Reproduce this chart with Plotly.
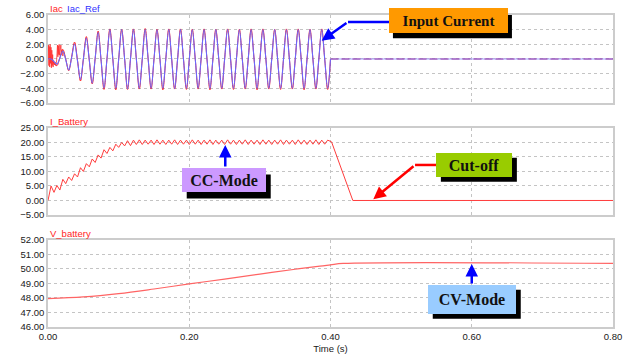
import plotly.graph_objects as go

# ---------------- data ----------------
TIME = [0.0,
        0.0043, 0.0085, 0.0126, 0.0168, 0.0210, 0.0251, 0.0293, 0.0335, 0.0376, 0.0418,
        0.0460, 0.0501, 0.0543, 0.0585, 0.0626, 0.0668, 0.0710, 0.0751, 0.0793, 0.0835,
        0.0876, 0.0918, 0.0960, 0.1001, 0.1043, 0.1085, 0.1126, 0.1168, 0.1210, 0.1251,
        0.1293, 0.1335, 0.1376, 0.1418, 0.1460, 0.1501, 0.1543, 0.1585, 0.1626, 0.1668,
        0.1710, 0.1751, 0.1793, 0.1835, 0.1876, 0.1918, 0.1960, 0.2001, 0.2043, 0.2085,
        0.2126, 0.2168, 0.2210, 0.2251, 0.2293, 0.2335, 0.2376, 0.2418, 0.2460, 0.2501,
        0.2543, 0.2585, 0.2626, 0.2668, 0.2710, 0.2751, 0.2793, 0.2835, 0.2876, 0.2918,
        0.2960, 0.3001, 0.3043, 0.3085, 0.3126, 0.3168, 0.3210, 0.3251, 0.3293, 0.3335,
        0.3376, 0.3418, 0.3460, 0.3501, 0.3543, 0.3585, 0.3626, 0.3668, 0.3710, 0.3751,
        0.3793, 0.3835, 0.3876, 0.3918, 0.3960, 0.4000]

IAC_REF = [0.0, 0.0, -0.35, -0.7, 0.1, 1.1, -0.1, -1.5, 0.2, 2.05,
           -0.3, -2.8, 0.0, 2.85, -0.2, -3.3, 0.1, 3.65, -0.1, -3.95,
           0.0, 4.0, 0.0, -4.0, 0.0, 4.0, 0.0, -4.05, 0.0, 4.0,
           0.0, -4.0, 0.0, 4.0, 0.0, -4.0, 0.0, 3.98, 0.0, -4.0,
           0.0, 4.0, 0.0, -4.02, 0.0, 4.0, 0.0, -4.0, 0.0, 3.98,
           0.0, -4.0, 0.0, 4.0, 0.0, -4.02, 0.0, 4.0, 0.0, -4.0,
           0.0, 4.0, 0.0, -4.0, 0.0, 3.98, 0.0, -4.0, 0.0, 4.0,
           0.0, -4.02, 0.0, 4.0, 0.0, -4.0, 0.0, 4.0, 0.0, -4.0,
           0.0, 3.98, 0.0, -4.0, 0.0, 4.0, 0.0, -4.02, 0.0, 4.0,
           0.0, -4.0, 0.0, 4.0, 0.0, -4.0, 0.0]

IAC = [0.1, 0.1, -0.6, -0.9, 0.2, 1.3, 0.0, -1.6, 0.3, 2.3,
       -0.2, -3.0, 0.0, 3.05, -0.2, -3.4, 0.1, 3.8, -0.1, -4.15,
       0.0, 4.1, 0.0, -4.2, 0.0, 4.05, 0.0, -4.15, 0.0, 4.1,
       0.0, -4.1, 0.0, 4.15, 0.0, -4.1, 0.0, 4.05, 0.0, -4.2,
       0.0, 4.1, 0.0, -4.1, 0.0, 4.1, 0.0, -4.15, 0.0, 4.05,
       0.0, -4.1, 0.0, 4.1, 0.0, -4.2, 0.0, 4.05, 0.0, -4.1,
       0.0, 4.1, 0.0, -4.15, 0.0, 4.05, 0.0, -4.1, 0.0, 4.1,
       0.0, -4.2, 0.0, 4.1, 0.0, -4.1, 0.0, 4.05, 0.0, -4.15,
       0.0, 4.1, 0.0, -4.1, 0.0, 4.1, 0.0, -4.2, 0.0, 4.05,
       0.0, -4.1, 0.0, 4.1, 0.0, -4.15, 0.0]

# switching noise on the measured current at start-up
IAC_NOISE_T = [0.0, 0.0006, 0.0012, 0.0018, 0.0024, 0.0030, 0.0036, 0.0042, 0.0048, 0.0054,
               0.0060, 0.0066, 0.0072, 0.0080, 0.0090, 0.0100, 0.0110, 0.0120, 0.0128, 0.0134,
               0.0140, 0.0146, 0.0152, 0.0158, 0.0164, 0.0170, 0.0176, 0.0182, 0.0190, 0.0200,
               0.0210, 0.0220]
IAC_NOISE = [0.2, 1.9, -0.9, 1.7, -1.1, 2.0, -0.6, 1.6, -1.2, 1.2,
             -0.9, 0.6, -1.1, -0.2, -0.8, -0.4, -0.9, -0.5, 0.8, 1.9,
             0.3, 1.8, 0.6, 2.0, 0.5, 1.6, 0.9, 1.9, 0.6, 1.3,
             0.4, 0.9]

IAC_TAIL_T = [0.40, 0.80]
IAC_TAIL = [0.0, 0.0]

I_BATTERY = [0.0, 5.0, 2.8, 5.2, 3.6, 7.3, 5.8, 8.1, 6.9, 9.2,
             8.1, 11.3, 10.0, 12.7, 11.6, 14.3, 13.1, 15.7, 14.6, 17.5,
             16.2, 18.3, 17.1, 19.4, 18.3, 20.0, 18.8, 20.6, 18.9, 20.8,
             19.3, 20.9, 19.3, 20.8, 19.4, 20.8, 19.3, 20.9, 19.4, 20.8,
             19.3, 20.8, 19.4, 20.9, 19.3, 20.8, 19.4, 20.8, 19.3, 20.9,
             19.4, 20.8, 19.3, 20.8, 19.4, 20.9, 19.3, 20.8, 19.4, 20.8,
             19.3, 20.9, 19.4, 20.8, 19.3, 20.8, 19.4, 20.9, 19.3, 20.8,
             19.4, 20.8, 19.3, 20.9, 19.4, 20.8, 19.3, 20.8, 19.4, 20.9,
             19.3, 20.8, 19.4, 20.8, 19.3, 20.9, 19.4, 20.8, 19.3, 20.8,
             19.4, 20.9, 19.3, 20.8, 19.4, 20.8]
BAT_TAIL_T = [0.4015, 0.4316, 0.8000]
BAT_TAIL = [20.2, 0.0, 0.0]

V_BATT_T = [0.0, 0.05, 0.10, 0.15, 0.20, 0.25, 0.30, 0.35, 0.385, 0.40, 0.418, 0.80]
V_BATT = [47.95, 48.07, 48.3, 48.62, 48.97, 49.3, 49.65, 49.98, 50.2, 50.28, 50.38, 50.38]

X_TICKS = [0.0, 0.2, 0.4, 0.6, 0.8]
Y1_TICKS = [-6, -4, -2, 0, 2, 4, 6]
Y2_TICKS = [-5, 0, 5, 10, 15, 20, 25]
Y3_TICKS = [46, 47, 48, 49, 50, 51, 52]

# ---------------- figure ----------------
fig = go.Figure()

fig.add_trace(go.Scatter(x=TIME, y=IAC, mode="lines", line=dict(color="rgb(255,20,20)", width=1.0, shape="spline"),
                         xaxis="x", yaxis="y", hoverinfo="skip"))
fig.add_trace(go.Scatter(x=IAC_NOISE_T, y=IAC_NOISE, mode="lines", line=dict(color="rgba(255,40,40,0.75)", width=1),
                         xaxis="x", yaxis="y", hoverinfo="skip"))
fig.add_trace(go.Scatter(x=TIME, y=IAC_REF, mode="lines", line=dict(color="rgb(105,105,255)", width=1.1, shape="spline"),
                         xaxis="x", yaxis="y", hoverinfo="skip"))
fig.add_trace(go.Scatter(x=IAC_TAIL_T, y=IAC_TAIL, mode="lines", line=dict(color="rgb(160,160,255)", width=1.2),
                         xaxis="x", yaxis="y", hoverinfo="skip"))
fig.add_trace(go.Scatter(x=IAC_TAIL_T, y=IAC_TAIL, mode="lines", line=dict(color="rgb(150,50,160)", width=1.2, dash="8px,3px"),
                         xaxis="x", yaxis="y", hoverinfo="skip"))

fig.add_trace(go.Scatter(x=TIME[:len(I_BATTERY)] + BAT_TAIL_T, y=I_BATTERY + BAT_TAIL, mode="lines",
                         line=dict(color="rgb(255,60,60)", width=1), xaxis="x2", yaxis="y2", hoverinfo="skip"))

fig.add_trace(go.Scatter(x=V_BATT_T, y=V_BATT, mode="lines", line=dict(color="rgb(255,100,100)", width=1.2, shape="spline"),
                         xaxis="x3", yaxis="y3", hoverinfo="skip"))

font_axis = dict(family="Arial, Liberation Sans", size=9.5, color="#202020")

def xax(anchor, show):
    return dict(domain=[0, 1], anchor=anchor, range=[0, 0.8], tickvals=X_TICKS, tickformat=".2f",
                showticklabels=show, showgrid=True, gridcolor="#c4c4c4", griddash="dot", gridwidth=1,
                zeroline=False, showline=True, mirror=True, linecolor="#cccccc", linewidth=1.5,
                ticks="", tickfont=font_axis, fixedrange=True, automargin=False)

def yax(anchor, dom, rng, ticks):
    return dict(domain=dom, anchor=anchor, range=rng, tickvals=ticks, tickformat=".2f",
                showgrid=True, gridcolor="#c4c4c4", griddash="dot", gridwidth=1,
                zeroline=False, showline=True, mirror=True, linecolor="#cccccc", linewidth=1.5,
                ticks="", tickfont=font_axis, fixedrange=True, automargin=False)

x3 = xax("y3", True)
x3["title"] = dict(text="Time (s)", font=font_axis, standoff=4)

fig.update_layout(
    width=628, height=358,
    margin=dict(l=48, r=15, t=15, b=31, autoexpand=False),
    paper_bgcolor="white", plot_bgcolor="white",
    showlegend=False,
    xaxis=xax("y", False),
    xaxis2=xax("y2", False),
    xaxis3=x3,
    yaxis=yax("x", [0.718, 1.0], [-6, 6], Y1_TICKS),
    yaxis2=yax("x2", [0.359, 0.638], [-5, 25], Y2_TICKS),
    yaxis3=yax("x3", [0.0, 0.279], [46, 52], Y3_TICKS),
)

lbl_font = dict(family="Arial, Liberation Sans", size=9.5)
ann = []
def title(text, color, xref, yref, xshift=0):
    ann.append(dict(text=text, xref=xref, yref=yref, x=0, y=1, xanchor="left", yanchor="bottom",
                    showarrow=False, font=dict(lbl_font, color=color), xshift=xshift, yshift=-1))

title("Iac", "rgb(255,30,30)", "x domain", "y domain")
title("Iac_Ref", "rgb(50,50,255)", "x domain", "y domain", xshift=17)
title("I_Battery", "rgb(255,30,30)", "x2 domain", "y2 domain")
title("V_battery", "rgb(255,30,30)", "x3 domain", "y3 domain")

box_font = dict(family="Times New Roman, Liberation Serif, serif", color="#111111")
shapes = []

def box(text, x, y, xref, yref, w, h, bg, sx, sy, size):
    # black drop shadow (pixel-sized rectangle anchored at the box centre)
    shapes.append(dict(type="rect", xref=xref, yref=yref, xsizemode="pixel", ysizemode="pixel",
                       xanchor=x, yanchor=y, x0=-w / 2 + sx, x1=w / 2 + sx, y0=-h / 2 - sy, y1=h / 2 - sy,
                       fillcolor="black", line=dict(width=0), layer="above"))
    ann.append(dict(text="<b>%s</b>" % text, x=x, y=y, xref=xref, yref=yref, showarrow=False,
                    width=w, height=h, bgcolor=bg, borderpad=0, borderwidth=0,
                    font=dict(box_font, size=size)))

def arrow(x, y, xref, yref, ax, ay, color):
    ann.append(dict(text="", x=x, y=y, xref=xref, yref=yref, showarrow=True, ax=ax, ay=ay,
                    arrowhead=2, arrowsize=1, arrowwidth=2.5, arrowcolor=color))

arrow(0.3875, 2.5, "x", "y", 26.3, -18.7, "blue")
arrow(0.251, 19.14, "x2", "y2", 0, 23, "blue")
arrow(0.4606, 0.41, "x2", "y2", 41.7, -34.3, "red")
arrow(0.600, 50.35, "x3", "y3", 0, 21, "blue")

box("Input Current", 0.567, 5.21, "x", "y", 119, 25, "#ff9900", 4, 5, 15)
box("CC-Mode", 0.2488, 6.9, "x2", "y2", 84, 24, "#cc99ff", 5, 6, 16)
box("Cut-off", 0.603, 12.34, "x2", "y2", 76, 24, "#99cc00", 5, 5, 16)
box("CV-Mode", 0.600, 47.92, "x3", "y3", 88, 29, "#99ccff", 5, 5, 16)

shapes += [
    dict(type="line", xref="x", yref="y", x0=0.4248, x1=0.486, y0=5.05, y1=5.05,
         line=dict(color="blue", width=2.5)),
    dict(type="line", xref="x2", yref="y2", x0=0.5197, x1=0.552, y0=12.24, y1=12.24,
         line=dict(color="red", width=2.5)),
]

fig.update_layout(annotations=ann, shapes=shapes)

fig.write_html("out.html", config={"displayModeBar": False},
               post_script="document.body.style.margin='0';")
